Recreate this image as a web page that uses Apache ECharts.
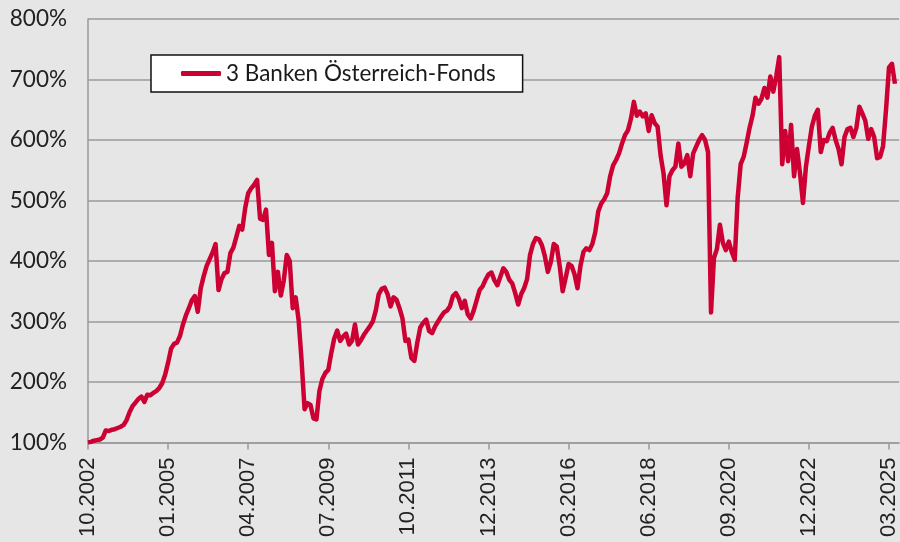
<!DOCTYPE html>
<html>
<head>
<meta charset="utf-8">
<script src="https://cdn.jsdelivr.net/npm/echarts@6/dist/echarts.min.js"></script>
<style>
  html, body { margin: 0; padding: 0; background: #e6e6e6; }
  #chart { width: 900px; height: 542px; }
</style>
</head>
<body>
<div id="chart"></div>
<script>
// x-Achse: gleichmäßige Abstände, 27 Monate pro Teilstrich
const tickLabels = ['10.2002', '01.2005', '04.2007', '07.2009', '10.2011', '12.2013',
                    '03.2016', '06.2018', '09.2020', '12.2022', '03.2025'];
const monthsPerTick = 27;
const seriesName = '3 Banken Österreich-Fonds';

// Wertentwicklung in %, ein Wert pro Monat ab 10.2002
const fundValues = [
  100, 101, 103, 104, 105, 108, 120, 119, 121, 122,
  124, 126, 129, 137, 150, 160, 166, 172, 176, 167,
  179, 178, 182, 185, 190, 198, 212, 232, 255, 263,
  265, 276, 295, 310, 322, 335, 342, 316, 355, 375,
  392, 403, 414, 428, 352, 370, 380, 382, 413, 422,
  440, 458, 452, 488, 512, 520, 526, 534, 470, 468,
  485, 410, 430, 350, 382, 343, 368, 410, 400, 322,
  340, 302, 235, 155, 165, 162, 140, 138, 185, 205,
  215, 220, 248, 272, 285, 268, 275, 280, 262, 268,
  295, 262, 269, 278, 285, 292, 300, 318, 345, 354,
  356, 345, 325, 340, 336, 322, 305, 268, 270, 240,
  235, 265, 290, 298, 303, 284, 281, 292, 300, 308,
  315, 318, 325, 342, 347, 338, 322, 334, 312, 305,
  318, 335, 352, 358, 369, 378, 381, 368, 360, 374,
  388, 382, 369, 363, 347, 328, 345, 355, 370, 410,
  428, 438, 436, 426, 408, 382, 398, 428, 424, 392,
  350, 372, 395, 392, 378, 355, 392, 415, 421, 418,
  428, 448, 482, 495, 502, 512, 540, 558, 567, 578,
  594, 608, 616, 635, 663, 640, 647, 639, 644, 615,
  641, 628, 622, 575, 545, 492, 540, 550, 556, 594,
  556, 561, 575, 540, 578, 589, 600, 608, 600, 580,
  315, 405, 420, 460, 430, 418, 432, 415, 402, 505,
  560, 572, 595, 620, 640, 670, 660, 668, 686, 670,
  705, 680, 706, 737, 560, 615, 565, 625, 540, 585,
  545, 496, 556, 590, 622, 640, 650, 580, 600, 598,
  612, 620, 600, 585, 560, 605, 618, 620, 605, 620,
  655, 644, 632, 602, 618, 605, 570, 572, 590, 650,
  720, 726, 693
];

const tickPositions = tickLabels.map((_, i) => i * monthsPerTick);
const lineColor = '#cc0033';
const gridColor = '#9a9a9a';

const chart = echarts.init(document.getElementById('chart'), null, { renderer: 'canvas' });

chart.setOption({
  animation: false,
  backgroundColor: '#e6e6e6',
  grid: { left: 88, right: 0, top: 19, bottom: 99.5 },
  legend: {
    left: 151,
    top: 55,
    padding: [7, 27, 7, 30],
    backgroundColor: '#ffffff',
    borderColor: '#111111',
    borderWidth: 1.5,
    icon: 'roundRect',
    itemWidth: 40,
    itemHeight: 5,
    textStyle: { fontFamily: 'Lato', fontSize: 22.5, color: '#1a1a1a' },
    data: [seriesName]
  },
  xAxis: {
    type: 'value',
    min: 0,
    max: 273.4,
    interval: monthsPerTick,
    splitLine: { show: false },
    axisLine: { lineStyle: { color: gridColor, width: 1.5 } },
    axisTick: { customValues: tickPositions, length: 7, lineStyle: { color: gridColor, width: 1.5 } },
    axisLabel: {
      customValues: tickPositions,
      rotate: 90,
      margin: 15,
      fontFamily: 'Liberation Sans',
      fontSize: 22,
      color: '#222222',
      formatter: (v) => tickLabels[Math.round(v / monthsPerTick)] || ''
    }
  },
  yAxis: {
    type: 'value',
    min: 100,
    max: 800,
    interval: 100,
    axisLine: { show: true, lineStyle: { color: gridColor, width: 1.5 } },
    axisTick: { show: false },
    splitLine: { lineStyle: { color: gridColor, width: 1.5 } },
    axisLabel: {
      margin: 21,
      fontFamily: 'Lato',
      fontSize: 22.5,
      color: '#222222',
      formatter: '{value}%'
    }
  },
  series: [{
    name: seriesName,
    type: 'line',
    showSymbol: false,
    symbol: 'none',
    color: lineColor,
    lineStyle: { color: lineColor, width: 4.5, join: 'round' },
    data: fundValues.map((v, i) => [i, v])
  }]
});
</script>
</body>
</html>
